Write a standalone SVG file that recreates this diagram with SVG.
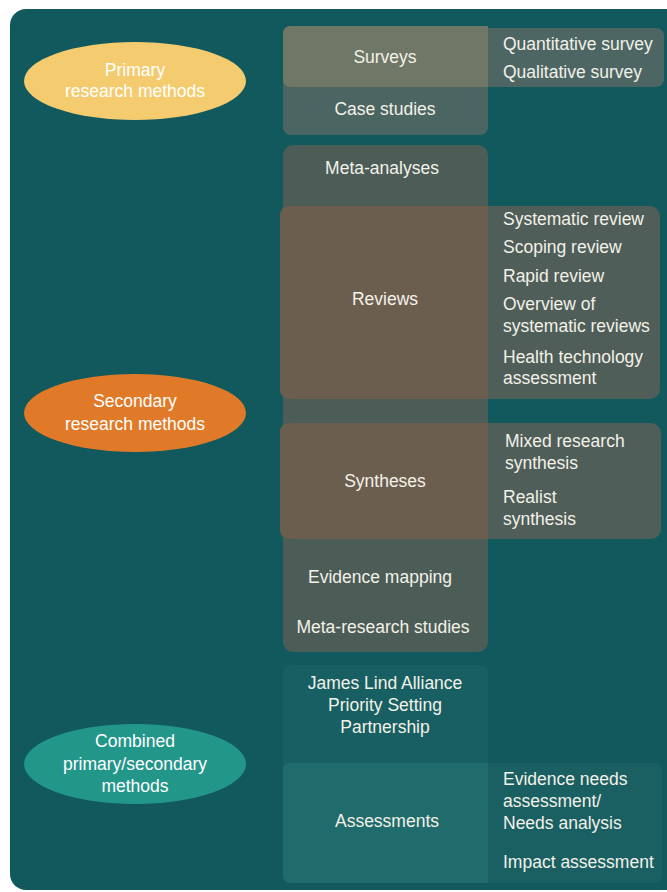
<svg xmlns="http://www.w3.org/2000/svg" width="667" height="892" viewBox="0 0 667 892">
<style>
text{font-family:"Liberation Sans",Arial,sans-serif;font-size:17.5px;fill:#F3F1E8}
.c{text-anchor:middle}
.e{fill:#FFFFFF}
</style>
<rect x="0" y="0" width="667" height="892" fill="#FFFFFF"/>
<rect x="10" y="9" width="680" height="881" rx="16" fill="#12595E"/>
<g id="connectors"/>
<g id="primary">
<ellipse cx="135" cy="81" rx="111" ry="39" fill="#F4CC6F"/>
<text class="c e" x="135" y="76">Primary</text>
<text class="c e" x="135" y="97">research methods</text>
</g>
<g id="primary-column">
<rect x="283" y="26" width="205" height="109" rx="8" fill="#4B6662"/>
</g>
<g id="surveys">
<rect x="283" y="28" width="381" height="59" rx="8" fill="#4D6663"/>
<path d="M291 26H488V87H291Q283 87 283 79V34Q283 26 291 26Z" fill="#6F7767"/>
<text class="c" x="385" y="63">Surveys</text>
<text x="503" y="50">Quantitative survey</text>
<text x="503" y="78">Qualitative survey</text>
</g>
<g id="case-studies">
<text class="c" x="385" y="115">Case studies</text>
</g>
<g id="secondary">
<ellipse cx="135" cy="413" rx="111" ry="39" fill="#E07A28"/>
<text class="c e" x="135" y="407">Secondary</text>
<text class="c e" x="135" y="430">research methods</text>
</g>
<g id="secondary-column">
<rect x="283" y="145" width="205" height="507" rx="10" fill="#4C5D57"/>
</g>
<g id="meta-analyses">
<text class="c" x="382" y="174">Meta-analyses</text>
</g>
<g id="reviews">
<rect x="280" y="206" width="380" height="193" rx="10" fill="#4F5E58"/>
<path d="M290 206H488V399H290Q280 399 280 389V216Q280 206 290 206Z" fill="#6B5E4F"/>
<text class="c" x="385" y="305">Reviews</text>
<text x="503" y="225">Systematic review</text>
<text x="503" y="253">Scoping review</text>
<text x="503" y="282">Rapid review</text>
<text x="503" y="310">Overview of</text>
<text x="503" y="332">systematic reviews</text>
<text x="503" y="363">Health technology</text>
<text x="503" y="384">assessment</text>
</g>
<g id="syntheses">
<rect x="280" y="423" width="381" height="116" rx="10" fill="#4F5E58"/>
<path d="M290 423H488V539H290Q280 539 280 529V433Q280 423 290 423Z" fill="#6B5E4F"/>
<text class="c" x="385" y="487">Syntheses</text>
<text x="505" y="447">Mixed research</text>
<text x="505" y="469">synthesis</text>
<text x="503" y="503">Realist</text>
<text x="503" y="525">synthesis</text>
</g>
<g id="evidence-mapping">
<text class="c" x="380" y="583">Evidence mapping</text>
</g>
<g id="meta-research">
<text class="c" x="383" y="633">Meta-research studies</text>
</g>
<g id="combined">
<ellipse cx="135" cy="764" rx="111" ry="40" fill="#23968A"/>
<text class="c e" x="135" y="747">Combined</text>
<text class="c e" x="135" y="770">primary/secondary</text>
<text class="c e" x="135" y="792">methods</text>
</g>
<g id="combined-column">
<rect x="283" y="665" width="205" height="218" rx="8" fill="#175F62"/>
</g>
<g id="jla">
<text class="c" x="385" y="689">James Lind Alliance</text>
<text class="c" x="385" y="711">Priority Setting</text>
<text class="c" x="385" y="733">Partnership</text>
</g>
<g id="assessments">
<rect x="283" y="763" width="379" height="120" rx="8" fill="#1A6063"/>
<path d="M291 763H488V883H291Q283 883 283 875V771Q283 763 291 763Z" fill="#206B6B"/>
<text class="c" x="387" y="827">Assessments</text>
<text x="503" y="785">Evidence needs</text>
<text x="503" y="807">assessment/</text>
<text x="503" y="829">Needs analysis</text>
<text x="503" y="868">Impact assessment</text>
</g>
</svg>
